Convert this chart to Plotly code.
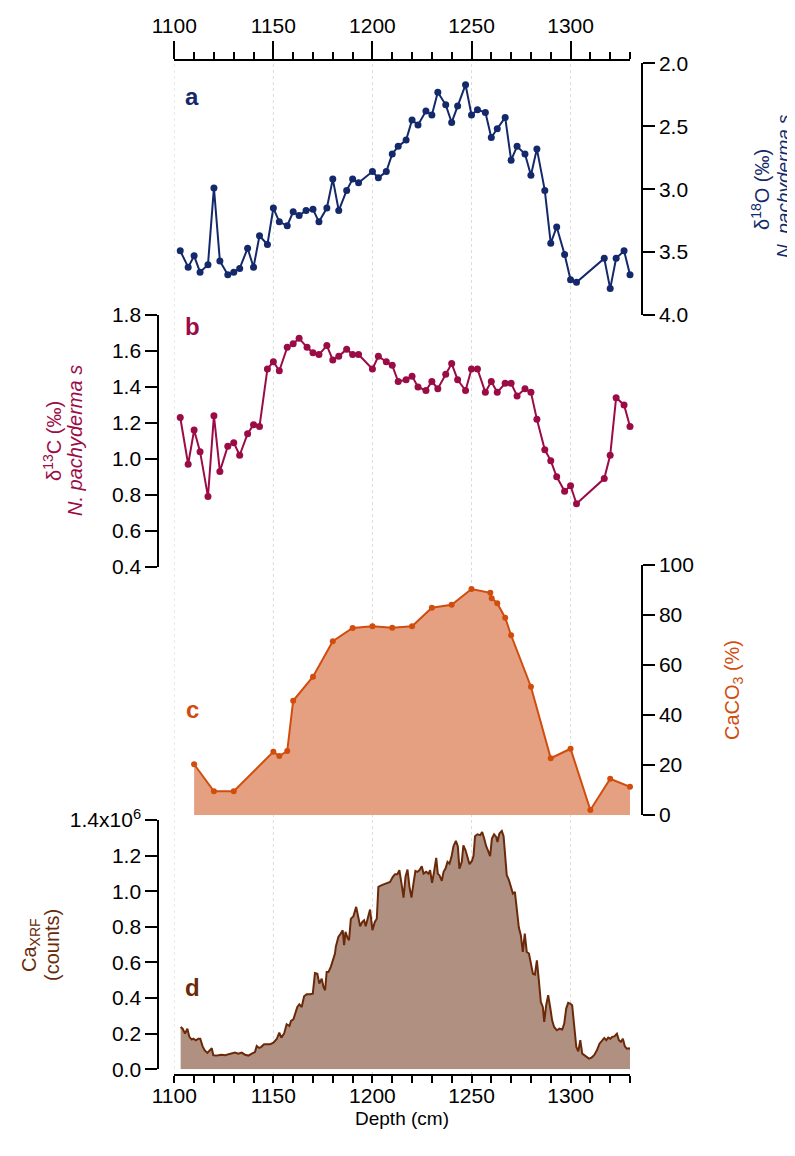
import plotly.graph_objects as go

# ---------------- data ----------------
depth_a = [1103, 1107, 1110, 1113, 1117, 1120, 1123, 1127, 1130, 1133, 1137, 1140, 1143, 1147, 1150,
           1153, 1157, 1160, 1163, 1166.5, 1170, 1173, 1177, 1180, 1183, 1187, 1190, 1193, 1200, 1203,
           1207, 1210, 1213, 1217, 1220, 1223, 1227, 1230, 1233, 1237, 1240, 1243, 1247, 1250, 1253,
           1257, 1260, 1263, 1267, 1270, 1273, 1277, 1280, 1283, 1287, 1290, 1293, 1297, 1300, 1303,
           1317, 1320, 1323, 1327, 1330]
d18O = [3.49, 3.62, 3.53, 3.66, 3.60, 2.99, 3.57, 3.68, 3.66, 3.63, 3.47, 3.62, 3.37, 3.44, 3.15,
        3.26, 3.29, 3.18, 3.21, 3.17, 3.16, 3.26, 3.15, 2.92, 3.17, 3.01, 2.92, 2.95, 2.86, 2.91,
        2.86, 2.72, 2.66, 2.61, 2.45, 2.49, 2.38, 2.41, 2.23, 2.33, 2.47, 2.34, 2.17, 2.41, 2.37,
        2.39, 2.59, 2.52, 2.43, 2.77, 2.66, 2.72, 2.89, 2.68, 3.01, 3.43, 3.30, 3.52, 3.72, 3.74,
        3.55, 3.79, 3.55, 3.49, 3.68]

depth_b = [1103, 1107, 1110, 1113, 1117, 1120, 1123, 1127, 1130, 1133, 1137, 1140, 1143, 1147, 1150,
           1153, 1157, 1160, 1163, 1167, 1170, 1173, 1177, 1180, 1183, 1187, 1190, 1193, 1200, 1203,
           1207, 1210, 1213, 1217, 1220, 1223, 1227, 1230, 1233, 1237, 1240, 1243, 1247, 1250, 1253,
           1257, 1260, 1263, 1267, 1270, 1273, 1277, 1280, 1283, 1287, 1290, 1293, 1297, 1300, 1303,
           1317, 1320, 1323, 1327, 1330]
d13C = [1.23, 0.97, 1.16, 1.04, 0.79, 1.24, 0.93, 1.07, 1.09, 1.02, 1.14, 1.19, 1.18, 1.50, 1.54,
        1.49, 1.62, 1.64, 1.67, 1.62, 1.59, 1.58, 1.63, 1.55, 1.57, 1.61, 1.58, 1.58, 1.50, 1.57,
        1.54, 1.52, 1.43, 1.44, 1.46, 1.40, 1.38, 1.43, 1.39, 1.47, 1.53, 1.44, 1.38, 1.50, 1.50,
        1.37, 1.43, 1.37, 1.42, 1.42, 1.35, 1.39, 1.37, 1.22, 1.05, 0.99, 0.90, 0.82, 0.85, 0.75,
        0.89, 1.02, 1.34, 1.30, 1.18]

depth_c = [1110, 1120, 1130, 1150, 1153, 1157, 1160, 1170, 1180, 1190, 1200, 1210, 1220, 1230, 1240,
           1250, 1259.5, 1260.2, 1263, 1267, 1270, 1280, 1290, 1300, 1310, 1320, 1330]
caco3 = [20.3, 9.5, 9.5, 25.3, 23.6, 25.6, 45.7, 55.3, 69.5, 74.8, 75.5, 74.9, 75.5, 82.9, 84.1,
         90.4, 88.9, 86.7, 84.7, 78.9, 71.9, 51.3, 22.7, 26.5, 2.0, 14.5, 11.3]

depth_d = [1103.2, 1104.2, 1105.4, 1106.6, 1107.6, 1108.8, 1109.6, 1110.9, 1112.1, 1113.1, 1114.3,
           1115.3, 1116.7, 1118.0, 1118.9, 1119.7, 1120.7, 1122.2, 1123.9, 1125.6, 1127.3, 1129.0,
           1130.6, 1132.3, 1134.0, 1135.7, 1137.4, 1139.1, 1140.7, 1141.6, 1142.8, 1143.8, 1145.3,
           1146.6, 1148.3, 1150.0, 1151.7, 1153.0, 1154.0, 1155.4, 1156.7, 1158.1, 1158.9, 1160.1,
           1160.9, 1162.1, 1163.1, 1164.3, 1165.5, 1166.8, 1168.5, 1169.9, 1171.0, 1172.2, 1173.2,
           1174.4, 1175.3, 1176.1, 1176.9, 1177.8, 1179.0, 1180.0, 1181.1, 1181.5, 1182.8, 1184.0,
           1185.0, 1185.7, 1186.4, 1187.4, 1188.2, 1189.1, 1190.4, 1191.8, 1192.9, 1193.8, 1194.9,
           1195.8, 1196.6, 1198.0, 1198.8, 1200.0, 1201.2, 1202.2, 1203.0, 1204.7, 1207.2, 1208.9,
           1210.3, 1211.4, 1212.6, 1213.6, 1214.8, 1215.7, 1216.7, 1217.7, 1218.7, 1219.7, 1220.7,
           1221.7, 1222.7, 1223.7, 1224.9, 1225.8, 1227.1, 1228.3, 1229.1, 1230.1, 1231.1, 1232.2,
           1233.0, 1233.8, 1235.0, 1235.9, 1236.9, 1237.9, 1238.9, 1239.9, 1240.9, 1242.1, 1243.1,
           1243.9, 1245.1, 1245.9, 1247.0, 1248.0, 1249.0, 1250.2, 1251.0, 1251.8, 1253.0, 1254.4,
           1255.4, 1256.4, 1257.4, 1258.6, 1259.4, 1260.3, 1261.4, 1262.5, 1263.1, 1264.1, 1265.3,
           1266.2, 1267.0, 1267.8, 1268.9, 1269.9, 1270.9, 1271.9, 1272.9, 1273.9, 1274.9, 1275.9,
           1276.9, 1277.9, 1279.0, 1280.0, 1281.0, 1282.0, 1283.0, 1284.0, 1285.0, 1286.0, 1286.7,
           1287.7, 1288.7, 1289.7, 1290.7, 1291.7, 1293.1, 1294.4, 1295.8, 1296.8, 1297.8, 1298.8,
           1299.8, 1300.8, 1301.9, 1302.9, 1303.9, 1304.9, 1305.9, 1306.9, 1308.2, 1309.3, 1310.6,
           1311.9, 1313.3, 1314.6, 1316.0, 1317.0, 1318.0, 1319.0, 1320.0, 1321.0, 1322.1, 1323.4,
           1324.4, 1325.4, 1326.4, 1327.4, 1328.4, 1329.5, 1330.1]
ca_xrf = [0.238, 0.228, 0.200, 0.228, 0.182, 0.167, 0.172, 0.163, 0.172, 0.172, 0.129,
          0.107, 0.092, 0.107, 0.118, 0.079, 0.077, 0.079, 0.082, 0.079, 0.084, 0.088,
          0.094, 0.088, 0.094, 0.082, 0.077, 0.088, 0.097, 0.131, 0.120, 0.125, 0.140,
          0.140, 0.140, 0.150, 0.170, 0.206, 0.178, 0.200, 0.253, 0.243, 0.272, 0.281,
          0.307, 0.350, 0.365, 0.350, 0.410, 0.421, 0.421, 0.425, 0.541, 0.537, 0.481,
          0.509, 0.463, 0.444, 0.547, 0.547, 0.575, 0.612, 0.650, 0.687, 0.743, 0.762,
          0.781, 0.697, 0.772, 0.740, 0.725, 0.845, 0.860, 0.912, 0.846, 0.803, 0.828,
          0.837, 0.803, 0.856, 0.897, 0.781, 0.828, 0.846, 1.024, 1.034, 1.047, 1.052,
          1.081, 1.096, 1.096, 1.118, 1.034, 0.964, 1.081, 1.122, 1.024, 0.964, 1.043,
          1.114, 1.109, 1.118, 1.140, 1.099, 1.109, 1.099, 1.118, 1.047, 1.109, 1.187,
          1.099, 1.090, 1.058, 1.109, 1.127, 1.165, 1.155, 1.193, 1.253, 1.283, 1.253,
          1.127, 1.165, 1.258, 1.230, 1.193, 1.152, 1.170, 1.197, 1.309, 1.320, 1.315,
          1.333, 1.296, 1.253, 1.221, 1.197, 1.296, 1.320, 1.305, 1.277, 1.324, 1.339,
          1.309, 1.202, 1.090, 1.062, 1.028, 0.987, 0.996, 0.908, 0.796, 0.753, 0.659,
          0.762, 0.659, 0.650, 0.594, 0.537, 0.532, 0.612, 0.500, 0.378, 0.350, 0.266,
          0.360, 0.416, 0.350, 0.275, 0.238, 0.219, 0.228, 0.223, 0.257, 0.341, 0.373,
          0.369, 0.360, 0.228, 0.125, 0.101, 0.163, 0.088, 0.079, 0.069, 0.060, 0.066,
          0.079, 0.107, 0.144, 0.163, 0.176, 0.163, 0.178, 0.172, 0.182, 0.185, 0.200,
          0.163, 0.154, 0.172, 0.129, 0.116, 0.118, 0.114]

depth_ticks = [1100, 1150, 1200, 1250, 1300]
a_ticks = [2.0, 2.5, 3.0, 3.5, 4.0]
b_ticks = [0.4, 0.6, 0.8, 1.0, 1.2, 1.4, 1.6, 1.8]
c_ticks = [0, 20, 40, 60, 80, 100]
d_ticks = [0.0, 0.2, 0.4, 0.6, 0.8, 1.0, 1.2, 1.4]
d_ticktext = ["0.0", "0.2", "0.4", "0.6", "0.8", "1.0", "1.2", "1.4x10<sup>6</sup>"]

# ---------------- style ----------------
OFF = 8                      # page margin around the plot div
W, H = 795 - OFF, 1156 - OFF
FONT = "Arial, Liberation Sans, sans-serif"
C_A = "#14296b"
C_B = "#9b0c46"
C_C_LINE = "#d14d0e"
C_C_FILL = "#e4a080"
C_D_LINE = "#6a2a0a"
C_D_FILL = "#b09080"


def fy(px):
    return 1 - (px - OFF) / H


def fx(px):
    return (px - OFF) / W


x_dom = [fx(174.3), fx(630)]
left_pos = fx(158.3)
right_pos = fx(641.7)

fig = go.Figure()
fig.add_trace(go.Scatter(x=depth_a, y=d18O, mode="lines+markers", xaxis="x", yaxis="y",
                         line=dict(color=C_A, width=2), marker=dict(color=C_A, size=7),
                         cliponaxis=False, showlegend=False, hoverinfo="skip"))
fig.add_trace(go.Scatter(x=depth_b, y=d13C, mode="lines+markers", xaxis="x", yaxis="y2",
                         line=dict(color=C_B, width=2), marker=dict(color=C_B, size=7),
                         cliponaxis=False, showlegend=False, hoverinfo="skip"))
fig.add_trace(go.Scatter(x=depth_c, y=caco3, mode="lines+markers", xaxis="x", yaxis="y3",
                         fill="tozeroy", fillcolor=C_C_FILL,
                         line=dict(color=C_C_LINE, width=2), marker=dict(color=C_C_LINE, size=6),
                         cliponaxis=False, showlegend=False, hoverinfo="skip"))
fig.add_trace(go.Scatter(x=depth_d, y=ca_xrf, mode="lines", xaxis="x", yaxis="y4",
                         fill="tozeroy", fillcolor=C_D_FILL,
                         line=dict(color=C_D_LINE, width=2),
                         cliponaxis=False, showlegend=False, hoverinfo="skip"))
# empty trace so the top depth axis is drawn
fig.add_trace(go.Scatter(x=[], y=[], xaxis="x2", yaxis="y", showlegend=False, hoverinfo="skip"))

tickfont = dict(family=FONT, size=21, color="black")
common_x = dict(domain=x_dom, range=[1100, 1330], tickvals=depth_ticks, ticks="outside",
                tickwidth=2, tickcolor="black", showline=True, linewidth=2,
                linecolor="black", showgrid=False, zeroline=False, tickfont=tickfont,
                minor=dict(dtick=10, tick0=1100, ticks="outside", ticklen=7, tickwidth=2,
                           tickcolor="black"),
                anchor="free", automargin=False)
common_y = dict(ticks="outside", ticklen=12, tickwidth=2, tickcolor="black", showline=True,
                linewidth=2, linecolor="black", showgrid=False, zeroline=False, tickfont=tickfont,
                anchor="free", automargin=False)

fig.update_layout(
    width=W, height=H,
    margin=dict(l=0, r=0, t=0, b=0),
    paper_bgcolor="white", plot_bgcolor="rgba(0,0,0,0)",
    font=dict(family=FONT, size=18, color="black"),
    showlegend=False,
    xaxis=dict(**common_x, side="bottom", position=fy(1075), ticklen=7, ticklabelstandoff=-5),
    xaxis2=dict(**common_x, side="top", position=fy(60), ticklen=18, overlaying="x", matches="x"),
    yaxis=dict(**common_y, domain=[fy(315), fy(63.3)], range=[4.0, 2.0], tickvals=a_ticks,
               tickformat=".1f", side="right", position=right_pos),
    yaxis2=dict(**common_y, domain=[fy(566.7), fy(315)], range=[0.4, 1.8], tickvals=b_ticks,
                tickformat=".1f", side="left", position=left_pos),
    yaxis3=dict(**common_y, domain=[fy(815), fy(565)], range=[0, 100], tickvals=c_ticks,
                side="right", position=right_pos),
    yaxis4=dict(**common_y, domain=[fy(1069.3), fy(820)], range=[0, 1.4], tickvals=d_ticks,
                ticktext=d_ticktext, side="left", position=left_pos),
)

# dotted vertical grid lines at the depth ticks
for t in depth_ticks:
    fig.add_shape(type="line", xref="x", yref="paper", x0=t, x1=t, y0=fy(1075), y1=fy(60),
                  line=dict(color="#dcdcdc", width=1, dash="dot"), layer="below")

# panel letters
for txt, py, col in [("a", 96.7, C_A), ("b", 326.7, C_B), ("c", 709.3, C_C_LINE), ("d", 987.7, C_D_LINE)]:
    fig.add_annotation(text=f"<b>{txt}</b>", xref="paper", yref="paper", x=fx(192), y=fy(py),
                       showarrow=False, xanchor="center", yanchor="middle",
                       font=dict(family=FONT, size=24, color=col))


def vlabel(text, px, py, col, size=20):
    fig.add_annotation(text=text, xref="paper", yref="paper", x=fx(px), y=fy(py), textangle=-90,
                       showarrow=False, xanchor="center", yanchor="middle",
                       font=dict(family=FONT, size=size, color=col))


vlabel("δ<sup>18</sup>O (‰)", 760, 190, C_A)
vlabel("<i>N. pachyderma s</i>", 784, 186, C_A, 19)
vlabel("δ<sup>13</sup>C (‰)", 53, 441, C_B)
vlabel("<i>N. pachyderma s</i>", 75, 441, C_B)
vlabel("CaCO<sub>3</sub> (%)", 733, 690, C_C_LINE)
vlabel("Ca<sub>XRF</sub>", 30, 945, C_D_LINE)
vlabel("(counts)", 52, 945, C_D_LINE)

# depth axis title
fig.add_annotation(text="Depth (cm)", xref="paper", yref="paper", x=fx(402), y=fy(1118),
                   showarrow=False, xanchor="center", yanchor="middle",
                   font=dict(family=FONT, size=19, color="black"))

fig.write_html("out.html")
